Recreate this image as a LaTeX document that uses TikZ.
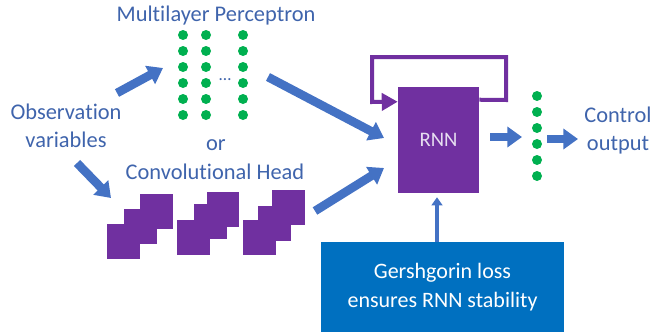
\documentclass[tikz,border=0pt]{standalone}
\usepackage{fontspec}
\setmainfont[Ligatures=NoCommon]{Carlito}
\usetikzlibrary{arrows.meta,calc}
\definecolor{txtblue}{HTML}{3F64AC}
\definecolor{arrblue}{HTML}{4472C4}
\definecolor{dotgreen}{HTML}{00B050}
\definecolor{rnnpurple}{HTML}{7030A0}
\definecolor{lossblue}{HTML}{0070C0}
\definecolor{rnntext}{HTML}{E6DDF0}
\tikzset{
  label/.style={text=txtblue, font=\fontsize{16.8pt}{21pt}\selectfont, inner sep=0pt, align=center},
  blockarrow/.style={draw=arrblue, line width=6.5pt, -{Triangle[length=11pt,width=15pt]}, shorten >=0pt},
  thinarrow/.style={draw=arrblue, line width=3.5pt, -{Triangle[length=6pt,width=8pt]}},
  loopline/.style={draw=rnnpurple, line width=3pt, -{Triangle[length=12pt,width=12.75pt]}},
  unit/.style={fill=dotgreen},
  fmap/.style={fill=rnnpurple},
}
\begin{document}
\begin{tikzpicture}[x=0.75pt,y=-0.75pt]
\useasboundingbox (0,0) rectangle (663,332);

% text labels
\node[label] (obs) at (66,126) {Observation\\variables};
\node[label] (mlp) at (216,16) {Multilayer Perceptron};
\node[label] (or) at (216,145) {or};
\node[label] (conv) at (215,172) {Convolutional Head};
\node[label] (ctrl) at (618,131) {Control\\output};

% multilayer perceptron units
\foreach \x in {183,206,243}
  \foreach \y in {35,51,67,83,99,115}
    \fill[unit] (\x,\y) circle[radius=3.75pt];
\node[text=txtblue, font=\fontsize{13pt}{15pt}\selectfont, inner sep=0pt, anchor=base] (gap) at (225,80) {…};

% convolutional feature maps
\fill[fmap] (140,194) rectangle (173,229);
\fill[fmap] (124,209) rectangle (157,244);
\fill[fmap] (107,224) rectangle (140,259);
\fill[fmap] (207,192) rectangle (239,227);
\fill[fmap] (194,204) rectangle (227,239);
\fill[fmap] (177,220) rectangle (210,255);
\fill[fmap] (272,190) rectangle (305,225);
\fill[fmap] (258,206) rectangle (291,241);
\fill[fmap] (243,220) rectangle (276,255);

% recurrent core
\node[fill=rnnpurple, minimum width=60.75pt, minimum height=79.5pt, inner sep=0pt,
      text=rnntext, font=\fontsize{15.5pt}{17pt}\selectfont] (rnn) at (438.5,140) {RNN};

% output units
\foreach \y in {96,112,128,144,160,176}
  \fill[unit] (537,\y) circle[radius=3.75pt];

% stability loss box
\node[fill=lossblue, minimum width=182.25pt, minimum height=67.5pt, inner sep=0pt,
      text=white, align=center, font=\fontsize{16.5pt}{22pt}\selectfont] (loss) at (442.5,287)
      {Gershgorin loss\\ensures RNN stability};

% arrow end points
\coordinate (obsA) at (117,93);
\coordinate (mlpIn) at (163,68);
\coordinate (obsB) at (77,163);
\coordinate (convIn) at (111,198);
\coordinate (mlpOut) at (268,77);
\coordinate (rnnInA) at (384,138);
\coordinate (convOut) at (315,211);
\coordinate (rnnInB) at (384,168);
\coordinate (rnnOut) at (490,137);
\coordinate (outIn) at (522,137);
\coordinate (outOut) at (547,139);
\coordinate (ctrlIn) at (578,139);

% connectors
\draw[blockarrow] (obsA) -- (mlpIn);
\draw[blockarrow] (obsB) -- (convIn);
\draw[blockarrow] (mlpOut) -- (rnnInA);
\draw[blockarrow] (convOut) -- (rnnInB);
\draw[blockarrow] (rnnOut) -- (outIn);
\draw[blockarrow] (outOut) -- (ctrlIn);
\draw[thinarrow] (loss.north -| 437,0) -- ($(rnn.south -| 437,0)+(0,4)$);

% recurrent feedback
\draw[loopline] ($(rnn.north east)+(0,13)$) -- (506,100) -- (506,57) -- (372,57) -- (372,102)
  -- ($(rnn.north west)+(0,15)$);
\end{tikzpicture}
\end{document}
